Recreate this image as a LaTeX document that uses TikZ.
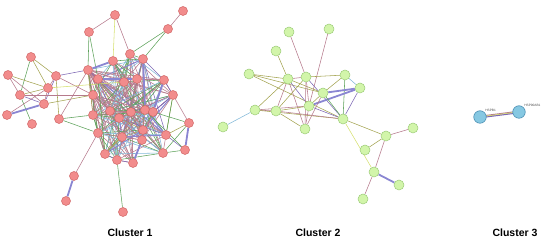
\documentclass[tikz,border=0pt]{standalone}
\usepackage{fontspec}
\setmainfont{Liberation Sans}
\pgfdeclarelayer{background}
\pgfsetlayers{background,main}
\definecolor{SalmonFill}{HTML}{F28C8C}
\definecolor{SalmonEdge}{HTML}{D06464}
\definecolor{MintFill}{HTML}{D2F5AA}
\definecolor{MintEdge}{HTML}{9CCB78}
\definecolor{SkyFill}{HTML}{86C8E2}
\definecolor{SkyEdge}{HTML}{4A8EB2}
\definecolor{LinkPurple}{HTML}{7E68B4}
\definecolor{LinkGreen}{HTML}{5DA25A}
\definecolor{LinkOlive}{HTML}{A4A452}
\definecolor{LinkPink}{HTML}{B67A8C}
\definecolor{LinkYellow}{HTML}{D6E070}
\definecolor{LinkBlue}{HTML}{82B8D8}
\definecolor{LinkThick}{HTML}{8A86D2}

\begin{document}
\begin{tikzpicture}
[   x=1pt, y=-1pt,
    protA/.style={circle, draw=SalmonEdge, fill=SalmonFill, line width=0.5pt, minimum size=9pt, inner sep=0},
    protB/.style={circle, draw=MintEdge, fill=MintFill, line width=0.5pt, minimum size=10pt, inner sep=0},
    protC/.style={circle, draw=SkyEdge, fill=SkyFill, line width=0.6pt, minimum size=12.5pt, inner sep=0},
    ec0/.style={draw=LinkPurple, line width=0.55pt},
    ec1/.style={draw=LinkGreen, line width=0.55pt},
    ec2/.style={draw=LinkOlive, line width=0.55pt},
    ec3/.style={draw=LinkPink, line width=0.55pt},
    ec4/.style={draw=LinkYellow, line width=0.55pt},
    ec5/.style={draw=LinkBlue, line width=0.55pt},
    ec6/.style={draw=LinkThick, line width=1.1pt},
    ecT/.style={draw=LinkThick, line width=1.8pt},
    gene/.style={font=\fontsize{3.2}{4}\selectfont, text=black!70, inner sep=0.5pt},
    title/.style={font=\bfseries\fontsize{10.5}{12}\selectfont}
]
    \useasboundingbox (0,0) rectangle (550,245);

    % cluster 1
    \foreach \x/\y [count=\n] in {183/11, 115/15, 89/32, 168/29, 130/54, 143/59, 113/61,
        31/57, 88/70, 56/76, 8/75, 98/79, 124/82, 137/79, 164/80, 48/88, 20/95,
        173/95, 93/95, 44/104, 110/111, 145/110, 153/112, 7/115, 93/115, 119/118,
        59/119, 32/124, 189/123, 143/130, 98/133, 122/137, 142/140, 166/135,
        185/150, 105/154, 117/160, 133/163, 163/153, 74/176, 66/201, 123/212, 131/112}
    {   \node[protA] (c-\n) at (\x,\y) {};
    }

    % cluster 2
    \foreach \x/\y [count=\n] in {289/32, 329/29, 276/51, 249/74, 288/79, 306/77,
        345/75, 360/88, 323/93, 309/106, 255/110, 276/111, 343/119, 223/127,
        305/129, 386/136, 413/128, 365/150, 374/172, 399/185, 363/199}
    {   \node[protB] (g-\n) at (\x,\y) {};
    }

    % cluster 3
    \node[protC] (h-1) at (480,117) {};
    \node[protC] (h-2) at (519,112) {};
    \node[gene, anchor=south west] (hspb) at (h-1.north east) {HSPB1};
    \node[gene, anchor=south west] (hsp90) at (h-2.north east) {HSP90AB1};

    \begin{pgfonlayer}{background}
        % dense core of cluster 1
        \foreach \i [count=\p] in {5,6,7,9,12,13,14,15,18,19,21,22,23,25,26,30,31,32,33,34,36,37,38,39,43}
        {   \foreach \j [count=\q] in {5,6,7,9,12,13,14,15,18,19,21,22,23,25,26,30,31,32,33,34,36,37,38,39,43}
            {   \ifnum\q>\p
                    \pgfmathtruncatemacro{\k}{mod(\i*7+\j*11+\i*\j,10)}
                    \ifnum\k<7 \ifnum\k=4 \else \draw[ec\k] (c-\i) -- (c-\j); \fi\fi
                \fi
            }
        }
        % outer links of cluster 1
        \foreach \a/\b/\s in {1/4/ec3, 4/6/ec1, 4/5/ec1, 2/5/ec3, 2/3/ec3, 2/7/ec4,
            3/9/ec1, 3/12/ec1, 8/10/ec2, 8/16/ec2, 8/17/ec1, 11/17/ec3, 11/20/ec3,
            11/16/ec2, 10/9/ec0, 10/16/ec3, 10/20/ec0, 10/27/ec2, 10/19/ec3,
            16/17/ec2, 16/20/ec3, 16/13/ec4, 17/20/ec0, 17/28/ec1, 17/19/ec3,
            24/20/ecT, 24/16/ec3, 20/19/ec2, 27/25/ec1, 27/9/ec3, 27/31/ec1,
            40/31/ec3, 40/41/ecT, 42/37/ec1, 29/35/ecT, 29/18/ec3, 29/23/ec1,
            29/39/ec1, 29/34/ec2, 35/39/ec1, 35/34/ec0, 35/22/ec1, 18/15/ec0,
            18/23/ec0, 18/34/ec1, 15/14/ec3, 15/6/ec0, 9/7/ecT, 9/12/ec0,
            38/33/ecT, 36/37/ec0, 37/38/ec0, 36/31/ec3, 15/23/ecT, 6/22/ecT,
            9/31/ec1, 9/25/ec2, 12/36/ec1}
        {   \draw[\s] (c-\a) -- (c-\b);
        }
        % links of cluster 2
        \foreach \a/\b/\s in {1/6/ec3, 2/10/ec3, 3/5/ec2, 4/9/ec2, 4/13/ec2,
            4/5/ec2, 5/6/ec3, 5/12/ec3, 5/11/ec2, 5/15/ec3, 5/10/ec0, 5/9/ec2,
            6/7/ec2, 6/13/ec0, 6/15/ec3, 6/12/ec2, 6/10/ec3, 7/8/ec5, 7/13/ec1,
            7/9/ec2, 8/10/ecT, 8/9/ecT, 8/13/ec0, 9/13/ec1, 9/10/ec2, 9/15/ec3,
            10/11/ec3, 10/12/ec2, 10/15/ec3, 10/13/ec0, 11/12/ec3, 11/14/ec5,
            11/13/ec2, 12/15/ec2, 12/13/ec3, 13/16/ec2, 13/19/ec4, 16/17/ec3,
            16/18/ec2, 16/19/ec3, 19/20/ecT, 19/21/ec3}
        {   \draw[\s] (g-\a) -- (g-\b);
        }
        % link of cluster 3
        \draw[ec3, line width=1pt] ([yshift=0.8pt]h-1.center) -- ([yshift=0.8pt]h-2.center);
        \draw[ec4, line width=1pt] (h-1.center) -- (h-2.center);
        \draw[ec0, line width=1pt] ([yshift=-0.8pt]h-1.center) -- ([yshift=-0.8pt]h-2.center);
    \end{pgfonlayer}

    \node[title] (t1) at (130,233) {Cluster 1};
    \node[title] (t2) at (318,233) {Cluster 2};
    \node[title] (t3) at (515,233) {Cluster 3};
\end{tikzpicture}
\end{document}
